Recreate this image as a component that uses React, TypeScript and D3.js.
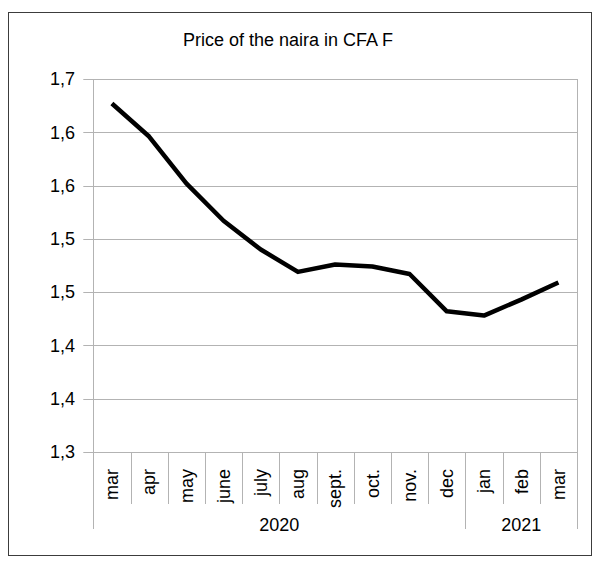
import React, { useEffect, useRef } from 'react';
import * as d3 from 'd3';

const title = "Price of the naira in CFA F";
const months = ["mar", "apr", "may", "june", "july", "aug", "sept.", "oct.", "nov.", "dec", "jan", "feb", "mar"];
const years = ["2020", "2021"];
const monthsPerYear = [10, 3];
const prices = [1.627, 1.596, 1.552, 1.517, 1.490, 1.469, 1.476, 1.474, 1.467, 1.432, 1.428, 1.443, 1.459];
const yTicks = [1.30, 1.35, 1.40, 1.45, 1.50, 1.55, 1.60, 1.65];
const yTickLabels = ["1,3", "1,4", "1,4", "1,5", "1,5", "1,6", "1,6", "1,7"];

const App = () => {
  const ref = useRef<SVGSVGElement>(null);

  useEffect(() => {
    const width = 597;
    const height = 568;
    const margin = { top: 79, right: 20, bottom: 116, left: 93.3 };
    const font = "'Liberation Sans', Arial, sans-serif";
    const gridColor = "#b3b3b3";

    const svg = d3.select(ref.current);
    svg.selectAll("*").remove();
    svg.attr("width", width).attr("height", height);

    // outer frame
    svg.append("rect")
      .attr("x", 8.5).attr("y", 12.5)
      .attr("width", 583).attr("height", 543)
      .attr("fill", "white")
      .attr("stroke", "#3c3c3c");

    svg.append("text")
      .attr("x", 288).attr("y", 46)
      .attr("text-anchor", "middle")
      .attr("font-family", font).attr("font-size", 18)
      .text(title);

    const x = d3.scaleBand<number>()
      .domain(d3.range(months.length))
      .range([margin.left, width - margin.right]);

    const y = d3.scaleLinear()
      .domain([1.3, 1.65])
      .range([height - margin.bottom, margin.top]);

    const x0 = margin.left;
    const x1 = width - margin.right;
    const yBottom = y(1.3);

    // horizontal gridlines with outward ticks
    svg.append("g")
      .selectAll("line")
      .data(yTicks)
      .enter()
      .append("line")
      .attr("x1", x0 - 10).attr("x2", x1)
      .attr("y1", d => Math.round(y(d)) + 0.5)
      .attr("y2", d => Math.round(y(d)) + 0.5)
      .attr("stroke", gridColor);

    // side borders of plot
    [x0, x1].forEach(xx => {
      svg.append("line")
        .attr("x1", Math.round(xx) + 0.5).attr("x2", Math.round(xx) + 0.5)
        .attr("y1", y(1.65)).attr("y2", yBottom)
        .attr("stroke", gridColor);
    });

    svg.append("g")
      .selectAll("text")
      .data(yTicks)
      .enter()
      .append("text")
      .attr("x", 75)
      .attr("y", d => y(d))
      .attr("dy", "0.35em")
      .attr("text-anchor", "end")
      .attr("font-family", font).attr("font-size", 18)
      .text((d, i) => yTickLabels[i]);

    // month dividers
    const yearStarts = d3.cumsum([0, ...monthsPerYear]).slice(0, -1);
    const isYearEdge = (i: number) => yearStarts.includes(i) || i === months.length;
    svg.append("g")
      .selectAll("line")
      .data(d3.range(months.length + 1))
      .enter()
      .append("line")
      .attr("x1", i => Math.round(i < months.length ? x(i)! : x1) + 0.5)
      .attr("x2", i => Math.round(i < months.length ? x(i)! : x1) + 0.5)
      .attr("y1", yBottom)
      .attr("y2", i => isYearEdge(i) ? yBottom + 77 : yBottom + 52)
      .attr("stroke", gridColor);

    svg.append("g")
      .selectAll("text")
      .data(months)
      .enter()
      .append("text")
      .attr("transform", (d, i) => `translate(${x(i)! + x.bandwidth() / 2},${yBottom + 17}) rotate(-90)`)
      .attr("dy", "0.35em")
      .attr("text-anchor", "end")
      .attr("font-family", font).attr("font-size", 18)
      .text(d => d);

    svg.append("g")
      .selectAll("text")
      .data(years)
      .enter()
      .append("text")
      .attr("x", (d, i) => {
        const a = x(yearStarts[i])!;
        const b = yearStarts[i] + monthsPerYear[i] < months.length ? x(yearStarts[i] + monthsPerYear[i])! : x1;
        return (a + b) / 2;
      })
      .attr("y", yBottom + 79)
      .attr("text-anchor", "middle")
      .attr("font-family", font).attr("font-size", 18)
      .text(d => d);

    const line = d3.line<number>()
      .x((d, i) => x(i)! + x.bandwidth() / 2)
      .y(d => y(d));

    svg.append("path")
      .datum(prices)
      .attr("d", line)
      .attr("fill", "none")
      .attr("stroke", "black")
      .attr("stroke-width", 4.5)
      .attr("stroke-linejoin", "round");
  }, []);

  return (
    <svg ref={ref} style={{ position: 'absolute', left: 0, top: 0 }}></svg>
  );
};

export default App;
